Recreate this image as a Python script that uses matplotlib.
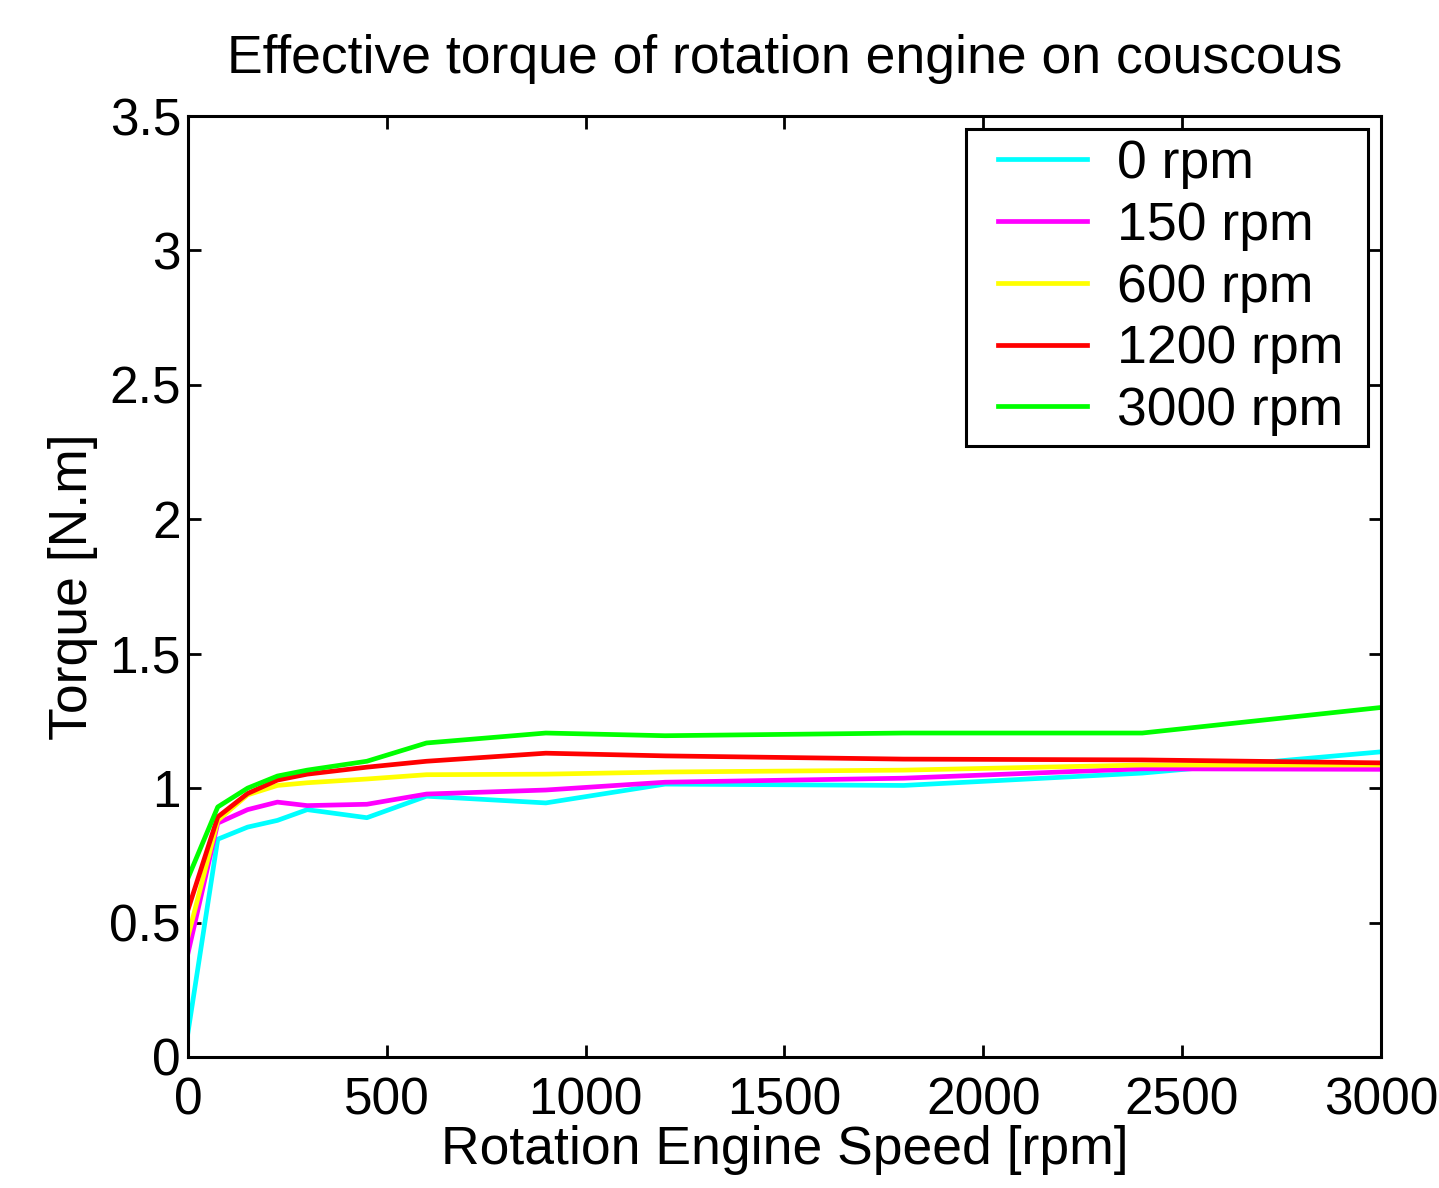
import matplotlib
matplotlib.use("Agg")
import matplotlib.pyplot as plt
import numpy as np
from matplotlib.legend_handler import HandlerLine2D

# ─── Data ──────────────────────────────────────────────────────────────────────
speed = [0, 75, 150, 225, 300, 450, 600, 900, 1200, 1800, 2400, 3000]

torque_0 = [0.09, 0.81, 0.855, 0.88, 0.92, 0.89, 0.97, 0.945, 1.015, 1.01, 1.056, 1.135]
torque_150 = [0.385, 0.87, 0.92, 0.948, 0.935, 0.94, 0.978, 0.993, 1.022, 1.037, 1.072, 1.07]
torque_600 = [0.446, 0.88, 0.975, 1.01, 1.02, 1.034, 1.05, 1.052, 1.06, 1.067, 1.086, 1.086]
torque_1200 = [0.547, 0.893, 0.98, 1.03, 1.052, 1.078, 1.10, 1.13, 1.12, 1.108, 1.105, 1.094]
torque_3000 = [0.665, 0.93, 1.0, 1.045, 1.067, 1.10, 1.168, 1.205, 1.195, 1.205, 1.205, 1.30]

labels = ["0 rpm", "150 rpm", "600 rpm", "1200 rpm", "3000 rpm"]
colors = ["#00FFFF", "#FF00FF", "#FFFF00", "#FF0000", "#00FF00"]


# legend handle with some blank space before the line (MATLAB-style legend)
class IndentedLine(HandlerLine2D):
    def get_xdata(self, legend, xdescent, ydescent, width, height, fontsize):
        lead = 0.41 * fontsize
        xdata = np.array([-xdescent + lead, -xdescent + width])
        return xdata, xdata


# ─── Chart ─────────────────────────────────────────────────────────────────────
plt.rcParams["font.family"] = ["Liberation Sans", "DejaVu Sans"]

fig = plt.figure(figsize=(14.39, 11.88), dpi=100)
ax = fig.add_axes([0.1306, 0.1103, 0.829, 0.792])

series = [torque_0, torque_150, torque_600, torque_1200, torque_3000]
lines = []
for y, lab, col in zip(series, labels, colors):
    ln, = ax.plot(speed, y, color=col, linewidth=3.4, label=lab)
    lines.append(ln)

ax.set_xlim(0, 3000)
ax.set_ylim(0, 3.5)
ax.set_xticks([0, 500, 1000, 1500, 2000, 2500, 3000])
ax.set_yticks([0, 0.5, 1, 1.5, 2, 2.5, 3, 3.5])
ax.set_yticklabels(["0", "0.5", "1", "1.5", "2", "2.5", "3", "3.5"])

ax.tick_params(direction="in", length=9, width=2, labelsize=37,
               top=True, right=True)
ax.tick_params(axis="x", pad=14)
ax.tick_params(axis="y", pad=5)
for s in ax.spines.values():
    s.set_linewidth(2.2)

ax.set_title("Effective torque of rotation engine on couscous", fontsize=38.5, pad=31)
ax.set_xlabel("Rotation Engine Speed [rpm]", fontsize=38.5, labelpad=0)
ax.set_ylabel("Torque [N.m]", fontsize=38.5, labelpad=8)

# trailing space gives the wider right margin of the MATLAB legend box
leg = ax.legend(lines, [lab + " " for lab in labels], loc="upper right",
                fontsize=38.5, fancybox=False, framealpha=1,
                edgecolor="black", handlelength=2.06, handletextpad=0.56,
                labelspacing=0.22, borderpad=0.19, borderaxespad=0.24,
                handler_map={plt.Line2D: IndentedLine()})
leg.get_frame().set_linewidth(2.2)

plt.savefig("out.png", dpi=100)
